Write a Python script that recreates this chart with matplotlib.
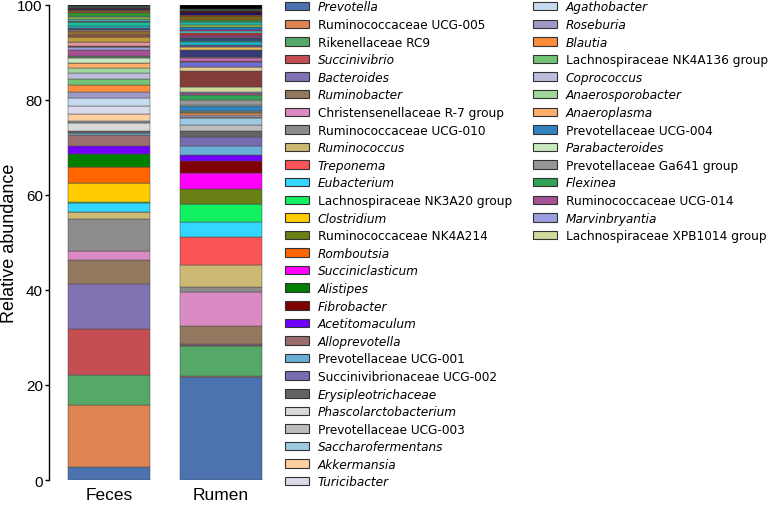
import matplotlib
matplotlib.use("Agg")
import matplotlib.pyplot as plt
from matplotlib.patches import Patch
import numpy as np

# ----------- DATA -----------
samples = ["Feces", "Rumen"]

genera = [
    "Prevotella", "Ruminococcaceae UCG-005", "Rikenellaceae RC9", "Succinivibrio",
    "Bacteroides", "Ruminobacter", "Christensenellaceae R-7 group",
    "Ruminococcaceae UCG-010", "Ruminococcus", "Treponema", "Eubacterium",
    "Lachnospiraceae NK3A20 group", "Clostridium", "Ruminococcaceae NK4A214",
    "Romboutsia", "Succiniclasticum", "Alistipes", "Fibrobacter", "Acetitomaculum",
    "Alloprevotella", "Prevotellaceae UCG-001", "Succinivibrionaceae UCG-002",
    "Erysipleotrichaceae", "Phascolarctobacterium", "Prevotellaceae UCG-003",
    "Saccharofermentans", "Akkermansia", "Turicibacter",
    "Agathobacter", "Roseburia", "Blautia", "Lachnospiraceae NK4A136 group",
    "Coprococcus", "Anaerosporobacter", "Anaeroplasma", "Prevotellaceae UCG-004",
    "Parabacteroides", "Prevotellaceae Ga641 group", "Flexinea",
    "Ruminococcaceae UCG-014", "Marvinbryantia", "Lachnospiraceae XPB1014 group",
]

colors = [
    "#4c72b0", "#dd8452", "#55a868", "#c44e52", "#8172b3", "#937860", "#da8bc3",
    "#8c8c8c", "#ccb974", "#fa5457", "#33d6ff", "#10f060", "#ffcc00", "#698014",
    "#ff6600", "#ff00ff", "#008000", "#800000", "#7000ff", "#9a6e6e", "#6baed6",
    "#756bb1", "#636363", "#d9d9d9", "#bdbdbd", "#9ecae1", "#fdd0a2", "#dadaeb",
    "#c6dbef", "#9e9ac8", "#fd8d3c", "#74c476", "#bcbddc", "#a1d99b", "#fdae6b",
    "#3182bd", "#c7e9c0", "#969696", "#31a354", "#a55194", "#9c9ede", "#cedb9c",
]

feces = [
    2.7, 13.1, 6.3, 9.7, 9.5, 5.1, 1.7, 6.8, 1.5, 0.1, 1.9, 0.1, 4.0, 0.1,
    3.3, 0.0, 2.8, 0.0, 1.7, 2.3, 0.3, 0.1, 0.4, 1.7, 0.1, 0.2, 1.6, 1.7,
    1.5, 1.4, 1.4, 1.3, 1.3, 1.0, 1.0, 0.1, 1.1, 0.2, 0.1, 1.2, 0.7, 0.1,
]

rumen = [
    21.6, 0.3, 6.2, 0.4, 0.1, 3.8, 7.1, 1.1, 4.7, 5.9, 3.0, 3.8, 0.0, 3.3,
    0.0, 3.3, 0.0, 2.6, 1.2, 0.1, 1.7, 1.9, 1.4, 0.0, 1.3, 1.4, 0.1, 0.1,
    0.1, 0.3, 0.4, 0.2, 0.1, 0.1, 0.1, 1.1, 0.1, 1.1, 1.1, 0.3, 0.3, 1.1,
]

# remaining low-abundance genera (not in legend)
other_colors = [
    "#843c39", "#e7969c", "#e7cb94", "#bd9e39", "#6b6ecf", "#ad494a", "#ce6dbd",
    "#8c6d31", "#de9ed6", "#393b79", "#e7ba52", "#5254a3", "#17becf", "#1abc9c",
    "#2e4a7a", "#7b4173", "#d62728", "#48d1cc", "#ff00aa", "#1f77b4", "#9acd32",
    "#20b2aa", "#2ca02c", "#ff4500", "#808000", "#8b4513", "#000080", "#4b0000",
    "#2f4f4f", "#000000",
]
other_feces = [
    0.1, 0.9, 0.0, 1.0, 0.0, 0.4, 0.0, 0.9, 0.2, 0.2, 0.1, 0.2, 0.3, 0.8,
    0.1, 0.1, 0.1, 0.4, 0.0, 0.1, 0.3, 0.2, 0.6, 0.3, 0.2, 0.2, 0.3, 0.2,
    0.3, 0.3,
]
other_rumen = [
    3.2, 0.1, 0.8, 0.1, 1.0, 0.1, 0.7, 0.2, 0.1, 1.3, 0.7, 0.4, 0.7, 0.3,
    0.6, 0.5, 0.5, 0.3, 0.3, 0.6, 0.5, 0.5, 0.6, 0.2, 0.4, 0.4, 0.3, 0.5,
    0.5, 0.8,
]

# ----------- PLOT -----------
fig = plt.figure(figsize=(7.72, 5.06), dpi=100)
ax = fig.add_axes([0.0635, 0.0494, 0.289, 0.939])

x = np.arange(len(samples))
width = 0.73
bottom = np.zeros(len(samples))

all_colors = colors + other_colors
all_vals = [(f, r) for f, r in zip(feces, rumen)] + \
           [(f, r) for f, r in zip(other_feces, other_rumen)]

for c, vals in zip(all_colors, all_vals):
    vals = np.array(vals)
    ax.bar(x, vals, width, bottom=bottom, color=c,
           edgecolor="#4a4a4a", linewidth=0.35)
    bottom += vals

ax.set_xlim(-0.536, 1.455)
ax.set_ylim(0, 100)
ax.set_yticks([0, 20, 40, 60, 80, 100])
ax.set_xticks(x)
ax.set_xticklabels(samples, fontsize=12.5, family="Liberation Sans")
ax.tick_params(axis="x", length=0, pad=5)
ax.tick_params(axis="y", direction="out", length=3, width=1, labelsize=11, pad=1.5)
for lab in ax.get_yticklabels():
    lab.set_family("Liberation Sans")
ax.set_ylabel("Relative abundance", fontsize=13, family="Liberation Sans")
ax.yaxis.set_label_coords(-0.139, 0.5)

for s in ["top", "right", "bottom"]:
    ax.spines[s].set_visible(False)
ax.spines["left"].set_linewidth(1)

# legends: 28 entries in first column, 14 in second
handles = [Patch(facecolor=c, edgecolor="#333333", linewidth=0.8) for c in colors]


def make_legend(h, labels, anchor):
    leg = fig.legend(h, labels, loc="upper left", bbox_to_anchor=anchor,
                     frameon=False, fontsize=8.7, handlelength=2.0,
                     handleheight=0.7, labelspacing=0.38, borderpad=0,
                     handletextpad=0.7)
    for t in leg.get_texts():
        if " " not in t.get_text():
            t.set_style("italic")
    return leg


make_legend(handles[:28], genera[:28], (0.3615, 1.009))
make_legend(handles[28:], genera[28:], (0.6825, 1.009))

fig.savefig("out.png", dpi=100)
